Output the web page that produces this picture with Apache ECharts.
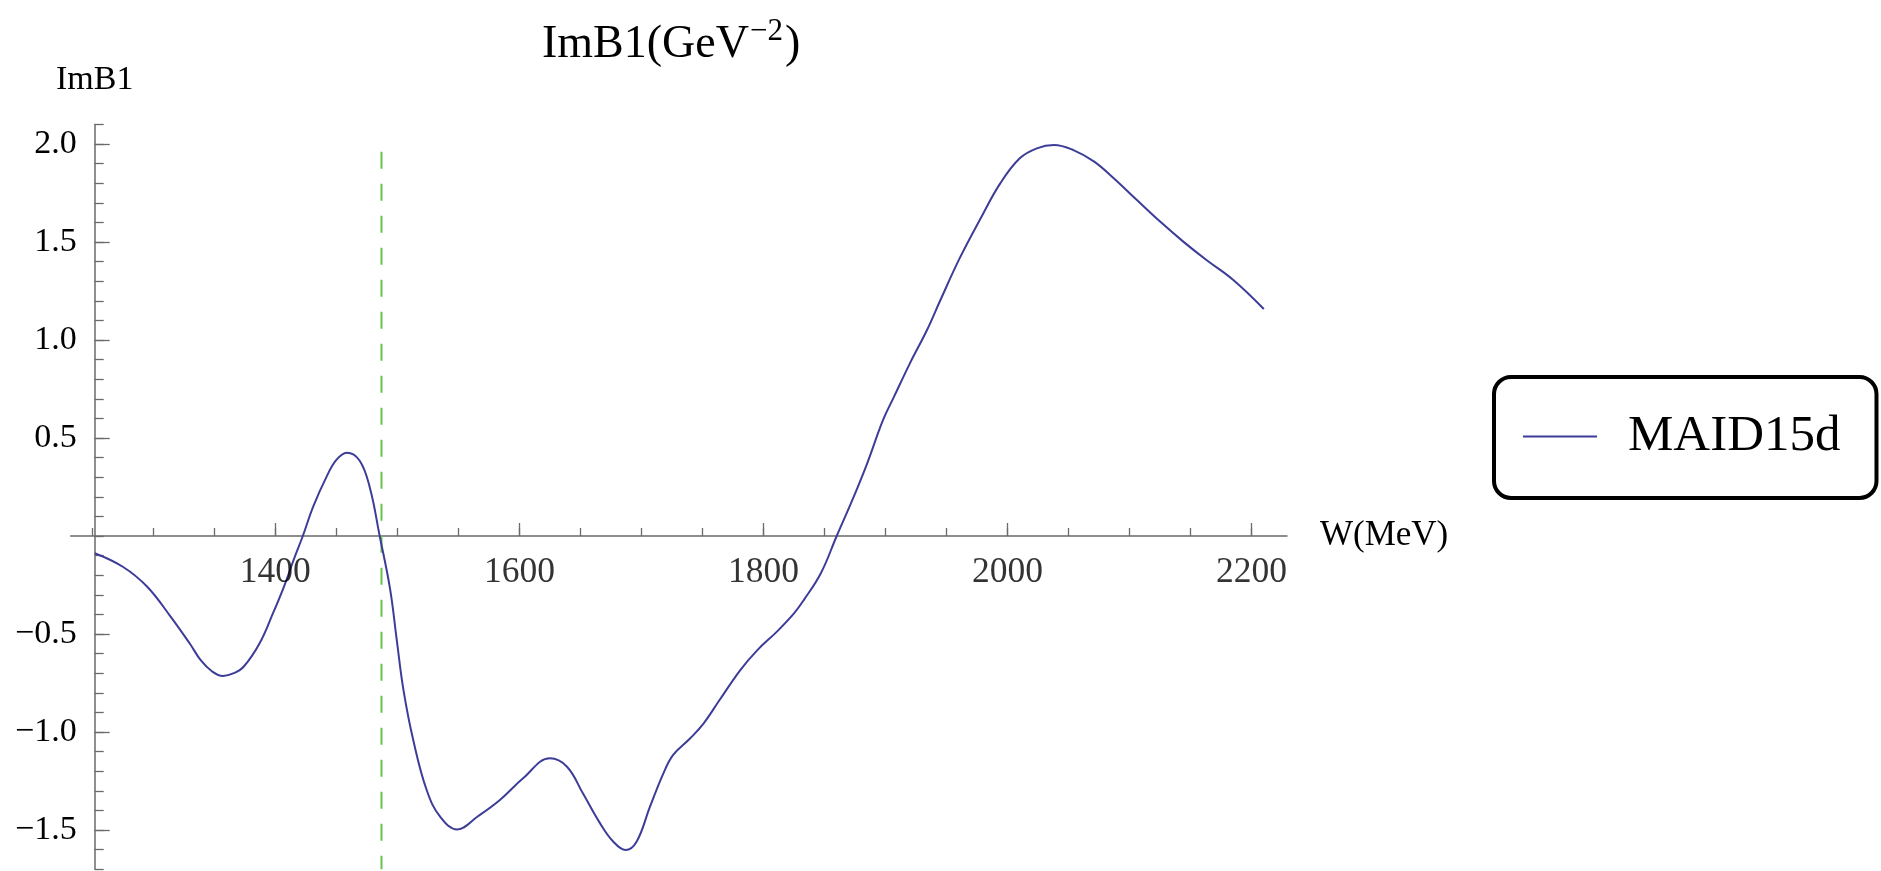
<!DOCTYPE html>
<html>
<head>
<meta charset="utf-8">
<script src="https://cdn.jsdelivr.net/npm/echarts@6/dist/echarts.min.js"></script>
<style>
html,body{margin:0;padding:0;background:#fff;}
#chart{width:1881px;height:871px;}
</style>
</head>
<body>
<div id="chart"></div>
<script>
// W (MeV) samples
var wValues = [1252,1275,1295,1314,1330,1339,1348,1357,1366,1374,1387,1398,1407,1415,1422.5,1431,1442,1450,1458.5,1469,1477.5,1485.5,1494,1499.5,1505,1513,1524,1535,1549,1566,1584,1603,1625,1639,1652,1666,1677,1687,1696,1707,1718,1726,1740,1751,1764,1781,1795,1811,1825,1833,1847,1860,1874,1885,1898,1907,1920,1934,1945,1961,1978,1994,2010,2024,2038,2054,2071,2087,2106,2125,2144,2163,2185,2210];
// ImB1 (GeV^-2) values
var imB1 = [-0.088,-0.157,-0.259,-0.41,-0.55,-0.635,-0.69,-0.714,-0.70,-0.667,-0.548,-0.395,-0.259,-0.122,0.0,0.150,0.303,0.388,0.425,0.385,0.245,0.0,-0.27,-0.531,-0.786,-1.041,-1.296,-1.432,-1.497,-1.43,-1.347,-1.236,-1.134,-1.177,-1.313,-1.465,-1.56,-1.602,-1.56,-1.381,-1.211,-1.117,-1.032,-0.956,-0.837,-0.684,-0.582,-0.488,-0.395,-0.327,-0.190,0.0,0.201,0.371,0.592,0.711,0.881,1.051,1.204,1.42,1.621,1.799,1.927,1.978,1.995,1.969,1.910,1.825,1.714,1.604,1.502,1.408,1.306,1.158];
// eta threshold line
var thresholdW = [1487, 1487];
var thresholdV = [1.96, -1.7];
// axis tick labels
var xTickLabels = [1400,1600,1800,2000,2200];
var yTickLabels = [-1.5,-1.0,-0.5,0.5,1.0,1.5,2.0];
var xMinorTicks = [];
for (var w = 1250; w <= 2200; w += 50) xMinorTicks.push(w);
var yMinorTicks = [];
for (var k = -17; k <= 21; k++) yMinorTicks.push(k / 10);

var seriesName = 'MAID15d';
var FONT = 'Liberation Serif';
var AXIS_COLOR = '#6a6a6a';

var curve = wValues.map(function (w, i) { return [w, imB1[i]]; });
var thr = thresholdW.map(function (w, i) { return [w, thresholdV[i]]; });
var xLabelPts = xTickLabels.map(function (w) { return [w, 0]; });

var chart = echarts.init(document.getElementById('chart'));
chart.setOption({
  backgroundColor: '#fff',
  animation: false,
  title: {
    text: '{a|ImB1(GeV}{s|−2}{a|)}',
    left: 537,
    top: 11,
    textStyle: {
      fontWeight: 'normal',
      rich: {
        a: { fontFamily: FONT, fontSize: 46, fontWeight: 'normal', color: '#000', lineHeight: 52, verticalAlign: 'bottom' },
        s: { fontFamily: FONT, fontSize: 31, fontWeight: 'normal', color: '#000', lineHeight: 52, verticalAlign: 'top', padding: [0, 2, 0, 1] }
      }
    }
  },
  legend: {
    data: [seriesName],
    left: 1494,
    top: 377,
    icon: 'rect',
    itemWidth: 74,
    itemHeight: 2,
    padding: [34, 36, 36, 29],
    borderColor: '#000',
    borderWidth: 4,
    borderRadius: 17,
    textStyle: { fontFamily: FONT, fontSize: 51, color: '#000', padding: [0, 0, 0, 26] }
  },
  grid: { left: 70.7, right: 594, top: 124.4, bottom: 1.8, containLabel: false, outerBoundsMode: 'none' },
  xAxis: [{
    type: 'value', min: 1232.3, max: 2229, position: 'bottom',
    name: 'W(MeV)', nameLocation: 'end', nameGap: 33,
    nameTextStyle: { fontFamily: FONT, fontSize: 35, color: '#000', verticalAlign: 'middle' },
    axisLine: { show: true, onZero: true, lineStyle: { color: AXIS_COLOR, width: 1.5 } },
    axisTick: { show: true, inside: true, length: 13, customValues: xTickLabels, lineStyle: { color: AXIS_COLOR, width: 1.3 } },
    axisLabel: { show: false },
    splitLine: { show: false }
  }, {
    type: 'value', min: 1232.3, max: 2229, position: 'bottom',
    axisLine: { show: false, onZero: true },
    axisTick: { show: true, inside: true, length: 8, customValues: xMinorTicks, lineStyle: { color: AXIS_COLOR, width: 1.3 } },
    axisLabel: { show: false },
    splitLine: { show: false }
  }],
  yAxis: [{
    type: 'value', min: -1.7, max: 2.1, position: 'left', offset: -24,
    name: 'ImB1', nameLocation: 'end', nameGap: 27,
    nameTextStyle: { fontFamily: FONT, fontSize: 34, color: '#000' },
    axisLine: { show: true, onZero: false, lineStyle: { color: AXIS_COLOR, width: 1.5 } },
    axisTick: { show: true, inside: true, length: 15, customValues: yTickLabels, lineStyle: { color: AXIS_COLOR, width: 1.3 } },
    axisLabel: {
      show: true, margin: 18, customValues: yTickLabels, fontFamily: FONT, fontSize: 34, color: '#000',
      formatter: function (v) { return v.toFixed(1).replace('-', '−'); }
    },
    splitLine: { show: false }
  }, {
    type: 'value', min: -1.7, max: 2.1, position: 'left', offset: -24,
    axisLine: { show: false, onZero: false },
    axisTick: { show: true, inside: true, length: 9, customValues: yMinorTicks, lineStyle: { color: AXIS_COLOR, width: 1.3 } },
    axisLabel: { show: false },
    splitLine: { show: false }
  }],
  series: [{
    name: seriesName,
    type: 'line',
    data: curve,
    xAxisIndex: 0, yAxisIndex: 0,
    smooth: 0.4,
    symbol: 'none',
    color: '#3d3d99',
    lineStyle: { color: '#3d3d99', width: 2 },
    z: 3
  }, {
    name: 'threshold',
    type: 'line',
    data: thr,
    xAxisIndex: 0, yAxisIndex: 0,
    symbol: 'none',
    color: '#66c24a',
    lineStyle: { color: '#66c24a', width: 2, type: [17, 15] },
    z: 2
  }, {
    name: 'xTickLabels',
    type: 'scatter',
    data: xLabelPts,
    xAxisIndex: 0, yAxisIndex: 0,
    symbol: 'circle',
    symbolSize: 1,
    silent: true,
    itemStyle: { color: 'rgba(0,0,0,0)' },
    label: {
      show: true, position: 'bottom', distance: 18,
      fontFamily: FONT, fontSize: 35.5, color: '#000',
      formatter: function (p) { return String(p.value[0]); }
    },
    labelLayout: { hideOverlap: false },
    z: 4
  }]
});
</script>
</body>
</html>
